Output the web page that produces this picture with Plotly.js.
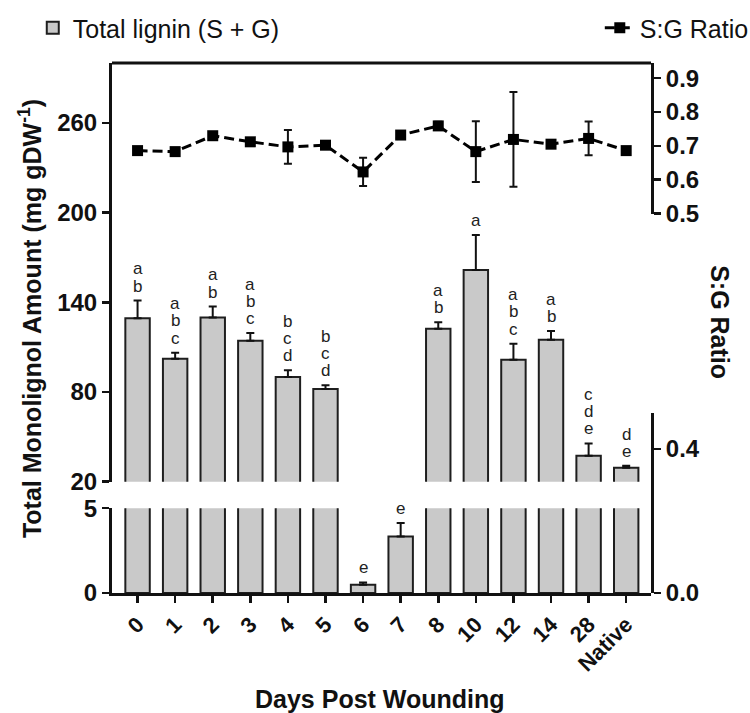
<!DOCTYPE html>
<html>
<head>
<meta charset="utf-8">
<script src="https://cdn.plot.ly/plotly-3.0.1.min.js"></script>
<style>html,body{margin:0;padding:0;background:#fff;}#chart{width:750px;height:713px;}</style>
</head>
<body>
<div id="chart"></div>
<script>
// ---- data ----
var days = ['0','1','2','3','4','5','6','7','8','10','12','14','28','Native'];
var lignin = [129.3, 102.3, 129.8, 114.3, 90.0, 82.0, 0.49, 3.33, 122.3, 161.6, 101.6, 115.0, 37.3, 29.3];
var ligninErr = [11.8, 4.0, 7.3, 5.2, 4.5, 2.5, 0.13, 0.8, 4.4, 23.4, 10.7, 5.7, 8.3, 1.3];
var sgRatio = [0.686, 0.683, 0.730, 0.712, 0.697, 0.702, 0.623, 0.732, 0.759, 0.683, 0.719, 0.705, 0.722, 0.686];
var sgErr = [0.004, 0.004, 0.006, 0.006, 0.050, 0.006, 0.042, 0.010, 0.012, 0.090, 0.140, 0.008, 0.050, 0.000];
var sigLetters = [['a','b'],['a','b','c'],['a','b'],['a','b','c'],['b','c','d'],['b','c','d'],['e'],['e'],['a','b'],['a'],['a','b','c'],['a','b'],['c','d','e'],['d','e']];
var upperTicks = [20, 80, 140, 200, 260];
var lowerTicks = [0, 5];
var ratioTicks = [0.5, 0.6, 0.7, 0.8, 0.9];
var ratioLowTicks = [0, 0.4];

var FONT = 'Liberation Sans, Arial, sans-serif';
var BREAK_LOW = 20;
var LOW_MAX = 5;

function barTrace(yax, showLeg) {
  return {type: 'bar', x: days.slice(), y: lignin.slice(), xaxis: 'x', yaxis: yax, name: 'Total lignin (S + G)', width: 0.65,
    marker: {color: '#c9c9c9', line: {color: '#1e1e1e', width: 2}},
    error_y: {type: 'data', symmetric: false, array: ligninErr.slice(), arrayminus: ligninErr.map(function(){return 0;}),
      color: '#111', thickness: 2, width: 4},
    showlegend: showLeg};
}

var traces = [
  barTrace('y', true),
  barTrace('y2', false),
  {type: 'scatter', mode: 'lines+markers', x: days.slice(), y: sgRatio, xaxis: 'x', yaxis: 'y3', name: 'S:G Ratio',
   line: {color: '#000', width: 3, dash: '10px,5px'}, marker: {symbol: 'square', size: 11, color: '#000'},
   error_y: {type: 'data', array: sgErr, color: '#111', thickness: 2, width: 4}, legend: 'legend2', cliponaxis: false},
  // empty trace so the lower right ratio axis is drawn
  {type: 'scatter', mode: 'markers', x: [], y: [], xaxis: 'x', yaxis: 'y4', showlegend: false, hoverinfo: 'skip'}
];

var annotations = [];
for (var i = 0; i < days.length; i++) {
  var errTop = lignin[i] + ligninErr[i];
  var ref = errTop >= BREAK_LOW ? 'y' : 'y2';
  var L = sigLetters[i];
  for (var k = 0; k < L.length; k++) {
    annotations.push({x: i, y: errTop, xref: 'x', yref: ref, text: L[L.length - 1 - k], showarrow: false,
      yanchor: 'bottom', xanchor: 'center', yshift: 4 + k * 17.2, borderpad: 0,
      font: {family: FONT, size: 17, color: '#222'}});
  }
}
annotations.push({xref: 'paper', yref: 'paper', x: 0.497, y: -0.2, text: '<b>Days Post Wounding</b>', showarrow: false,
  xanchor: 'center', yanchor: 'middle', font: {family: FONT, size: 25, color: '#111'}});
annotations.push({xref: 'paper', yref: 'paper', x: -0.152, y: 0.517, text: '<b>Total Monolignol Amount (mg gDW<sup>-1</sup>)</b>', showarrow: false,
  textangle: -90, xanchor: 'center', yanchor: 'middle', font: {family: FONT, size: 25, color: '#111'}});
annotations.push({xref: 'paper', yref: 'paper', x: 1.128, y: 0.511, text: '<b>S:G Ratio</b>', showarrow: false,
  textangle: 90, xanchor: 'center', yanchor: 'middle', font: {family: FONT, size: 25, color: '#111'}});

function axis(extra) {
  var a = {showline: true, linecolor: '#111', linewidth: 3, ticks: 'outside', ticklen: 7, tickwidth: 2.5, tickcolor: '#111',
    showgrid: false, zeroline: false, tickfont: {family: FONT, size: 24, color: '#111', weight: 'bold'}};
  for (var key in extra) a[key] = extra[key];
  return a;
}

var layout = {
  width: 750, height: 713,
  margin: {l: 112, r: 99, t: 63, b: 120, autoexpand: false},
  paper_bgcolor: '#fff', plot_bgcolor: 'rgba(0,0,0,0)',
  font: {family: FONT, color: '#111'},
  xaxis: axis({type: 'category', anchor: 'y2', range: [-0.68, 13.66], tickangle: -45,
    tickfont: {family: FONT, size: 22, color: '#111', weight: 'bold'}}),
  yaxis: axis({domain: [0.210, 1], range: [BREAK_LOW, 300], tickvals: upperTicks, anchor: 'x'}),
  yaxis2: axis({domain: [0, 0.160], range: [0, LOW_MAX], tickvals: lowerTicks, anchor: 'x'}),
  yaxis3: axis({domain: [0.716, 1], range: [0.5, 0.945], tickvals: ratioTicks, tickformat: '.1f', side: 'right', anchor: 'x'}),
  yaxis4: axis({domain: [0, 0.3396], range: [0, 0.5], tickvals: ratioLowTicks, tickformat: '.1f', side: 'right', anchor: 'x'}),
  showlegend: true,
  legend: {x: -0.147, y: 1.066, xanchor: 'left', yanchor: 'middle', orientation: 'h', bgcolor: 'rgba(0,0,0,0)',
    font: {family: FONT, size: 25, color: '#111'}},
  legend2: {x: 0.905, y: 1.066, xanchor: 'left', yanchor: 'middle', orientation: 'h', bgcolor: 'rgba(0,0,0,0)',
    font: {family: FONT, size: 25, color: '#111'}},
  shapes: [{type: 'line', xref: 'paper', yref: 'paper', x0: 0, x1: 1, y0: 1, y1: 1, line: {color: '#111', width: 3}}],
  annotations: annotations
};

Plotly.newPlot('chart', traces, layout, {displayModeBar: false, staticPlot: true});
</script>
</body>
</html>
